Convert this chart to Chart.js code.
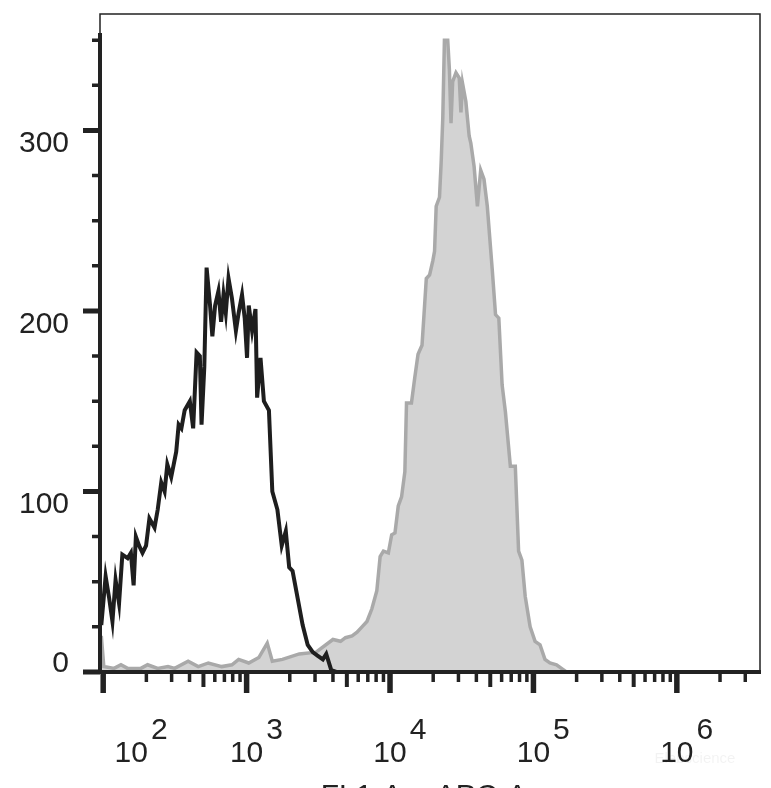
<!DOCTYPE html>
<html>
<head>
<meta charset="utf-8">
<script src="https://cdn.jsdelivr.net/npm/chart.js@4/dist/chart.umd.min.js"></script>
<style>
    html, body { margin: 0; padding: 0; background: #fff; }
    canvas { display: block; }
</style>
</head>
<body>
<canvas id="histChart" width="771" height="788"></canvas>
<script>
// isotype control (black line): channel value and event count
var isoChannel = [97, 104, 110, 116, 122, 129, 136, 148, 156, 163,
    169, 178, 188, 199, 210, 228, 240, 254, 268, 280,
    298, 323, 336, 351, 370, 402, 424, 448, 472, 485,
    507, 526, 556, 577, 603, 636, 664, 690, 716, 748,
    790, 842, 880, 929, 970, 1007, 1035, 1092, 1153, 1184,
    1250, 1320, 1431, 1511, 1639, 1758, 1876, 1981, 2091, 2267,
    2459, 2667, 2892, 3136, 3402, 3591, 3893, 4222, 3800000];
var isoCount = [26, 53, 41, 28, 51, 38, 65, 63, 66, 48,
    75, 70, 66, 70, 85, 80, 90, 105, 100, 115,
    108, 122, 137, 135, 145, 150, 135, 177, 175, 137,
    169, 224, 203, 186, 203, 211, 194, 209, 199, 218,
    207, 189, 199, 209, 196, 174, 203, 189, 201, 152,
    174, 150, 145, 100, 90, 70, 78, 58, 56, 41,
    26, 15, 11, 9, 7, 10, 1, 0, 0];

// stained sample (grey filled)
var stainChannel = [97, 101, 119, 133, 148, 183, 204, 240, 283, 315,
    391, 460, 541, 671, 790, 880, 1035, 1217, 1393, 1511,
    1777, 2329, 3052, 4000, 4521, 4894, 5439, 5890, 6376, 6905,
    7474, 8091, 8532, 8995, 9739, 10268, 10827, 11415, 12036, 12690,
    13030, 14108, 14873, 15680, 16712, 17256, 17906, 18880, 19908, 20436,
    20984, 22126, 22719, 23330, 23952, 25254, 25932, 26627, 27341, 28829,
    30396, 31211, 32050, 33792, 35630, 36584, 38573, 40671, 42882, 45213,
    47671, 51598, 54403, 57361, 60479, 63767, 69033, 74735, 78797, 83081,
    87598, 94835, 102668, 111150, 120330, 130270, 144860, 156830, 169800];
var stainCount = [20, 3, 2, 4, 2, 2, 4, 2, 3, 2,
    6, 3, 5, 3, 4, 7, 5, 8, 16, 6,
    7, 10, 11, 18, 17, 19, 20, 22, 25, 28,
    35, 45, 64, 67, 66, 76, 77, 92, 97, 111,
    149, 149, 163, 176, 181, 198, 218, 220, 228, 233,
    258, 263, 282, 307, 350, 350, 334, 304, 327, 332,
    329, 310, 326, 316, 297, 293, 280, 258, 278, 273,
    258, 223, 198, 196, 159, 144, 114, 114, 67, 62,
    42, 25, 17, 15, 7, 5, 4, 2, 0];

// axis ticks
var yMajor = [0, 100, 200, 300];
var yMinor = [25, 50, 75, 125, 150, 175, 225, 250, 275, 325, 350];
var xDecades = [2, 3, 4, 5, 6];
var xMultipliers = [2, 3, 4, 5, 6, 7, 8, 9];
var xTitle = 'FL1-A :: APC-A';

var FONT = '30px "Liberation Sans", Arial, sans-serif';

function toPoints(xs, ys) {
    return xs.map(function (x, i) { return { x: x, y: ys[i] }; });
}

// FlowJo style axes: thick left/bottom axes, thin box, ticks drawn outside
var flowAxes = {
    id: 'flowAxes',
    afterDraw: function (chart) {
        var ctx = chart.ctx, xs = chart.scales.x, ys = chart.scales.y, a = chart.chartArea;
        ctx.save();
        ctx.strokeStyle = '#222';
        ctx.fillStyle = '#222';

        // thin frame
        ctx.lineWidth = 1.5;
        ctx.beginPath();
        ctx.moveTo(a.left, a.bottom);
        ctx.lineTo(a.left, a.top);
        ctx.lineTo(a.right, a.top);
        ctx.lineTo(a.right, a.bottom);
        ctx.stroke();

        // thick axes
        ctx.lineWidth = 4;
        ctx.beginPath();
        ctx.moveTo(a.left, ys.getPixelForValue(354));
        ctx.lineTo(a.left, a.bottom + 2);
        ctx.moveTo(a.left, a.bottom);
        ctx.lineTo(a.right + 1, a.bottom);
        ctx.stroke();

        // y ticks
        ctx.lineWidth = 5;
        ctx.beginPath();
        yMajor.forEach(function (v) {
            var py = ys.getPixelForValue(v);
            ctx.moveTo(a.left - 17, py);
            ctx.lineTo(a.left, py);
        });
        ctx.stroke();
        ctx.lineWidth = 3.5;
        ctx.beginPath();
        yMinor.forEach(function (v) {
            var py = ys.getPixelForValue(v);
            ctx.moveTo(a.left - 8, py);
            ctx.lineTo(a.left, py);
        });
        ctx.stroke();

        ctx.font = FONT;
        ctx.textAlign = 'right';
        ctx.textBaseline = 'alphabetic';
        yMajor.forEach(function (v) {
            var py = ys.getPixelForValue(v);
            ctx.fillText(String(v), a.left - 31, v === 0 ? py : py + 22);
        });

        // x ticks
        var decadeStart = xDecades[0] - 1;
        var decadeEnd = xDecades[xDecades.length - 1];
        for (var d = decadeStart; d <= decadeEnd; d++) {
            xMultipliers.forEach(function (m) {
                var v = m * Math.pow(10, d);
                if (v < xs.min || v > xs.max) return;
                var px = xs.getPixelForValue(v);
                ctx.lineWidth = m === 5 ? 4 : 3.5;
                ctx.beginPath();
                ctx.moveTo(px, a.bottom);
                ctx.lineTo(px, a.bottom + (m === 5 ? 15 : 10));
                ctx.stroke();
            });
        }
        ctx.lineWidth = 5.5;
        ctx.beginPath();
        xDecades.forEach(function (e) {
            var px = xs.getPixelForValue(Math.pow(10, e));
            ctx.moveTo(px, a.bottom);
            ctx.lineTo(px, a.bottom + 21);
        });
        ctx.stroke();

        // x labels 10^n
        ctx.textAlign = 'left';
        xDecades.forEach(function (e, i) {
            var px = xs.getPixelForValue(Math.pow(10, e)) + (i === 0 ? 28 : 0);
            var w = ctx.measureText('10').width;
            ctx.fillText('10', px - w / 2, a.bottom + 90);
            ctx.fillText(String(e), px + w / 2 + 3, a.bottom + 67);
        });

        // axis title (cut at the bottom edge)
        ctx.textAlign = 'center';
        ctx.fillText(xTitle, (a.left + a.right) / 2 - 6, a.bottom + 133);

        // faint watermark
        ctx.font = '15px "Liberation Sans", Arial, sans-serif';
        ctx.fillStyle = 'rgba(0,0,0,0.05)';
        ctx.fillText('Elabscience', 695, a.bottom + 91);
        ctx.restore();
    }
};

var chart = new Chart(document.getElementById('histChart'), {
    type: 'line',
    data: {
        datasets: [{
            label: 'Isotype',
            data: toPoints(isoChannel, isoCount),
            borderColor: '#1e1e1e',
            borderWidth: 4,
            pointRadius: 0,
            fill: false,
            tension: 0
        }, {
            label: 'Stained',
            data: toPoints(stainChannel, stainCount),
            borderColor: '#a9a9a9',
            backgroundColor: '#d3d3d3',
            borderWidth: 3.5,
            pointRadius: 0,
            fill: 'origin',
            tension: 0
        }]
    },
    options: {
        responsive: false,
        animation: false,
        events: [],
        layout: { padding: { left: 100, right: 11, top: 14, bottom: 116 } },
        plugins: {
            legend: { display: false },
            tooltip: { enabled: false }
        },
        scales: {
            x: { type: 'logarithmic', min: 95, max: 3800000, display: false },
            y: { min: 0, max: 364.5, display: false }
        }
    },
    plugins: [flowAxes]
});
</script>
</body>
</html>
